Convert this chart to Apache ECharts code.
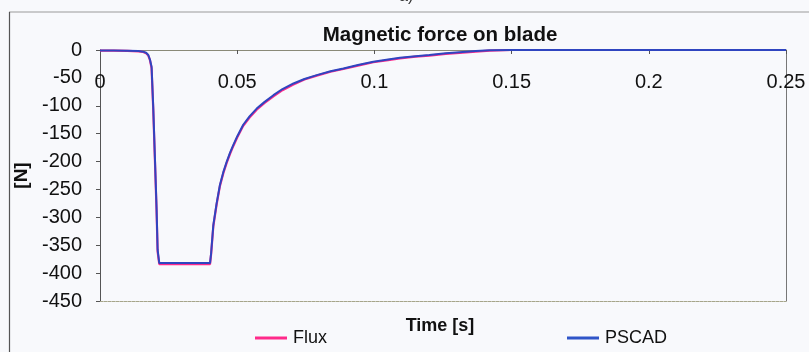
<!DOCTYPE html>
<html>
<head>
<meta charset="utf-8">
<script src="https://cdn.jsdelivr.net/npm/echarts@6/dist/echarts.min.js"></script>
<style>
  html, body { margin: 0; padding: 0; background: #f8f9fc; }
  #chart { width: 809px; height: 352px; }
</style>
</head>
<body>
<div id="chart"></div>
<script>
// Magnetic force on the blade over time, two simulation tools compared.
const timeS = [0, 0.005, 0.010, 0.0140, 0.0157, 0.0168, 0.0176, 0.0182, 0.0188, 0.0194, 0.0200, 0.0206, 0.0210, 0.0216,
  0.0401, 0.0405, 0.0413, 0.0425, 0.0437, 0.0450, 0.0462, 0.0474, 0.0486, 0.0500, 0.0522, 0.0545, 0.0571,
  0.0600, 0.0632, 0.0665, 0.0705, 0.0745, 0.0790, 0.0840, 0.0887, 0.0940, 0.0996, 0.1050, 0.1093,
  0.1150, 0.1200, 0.1260, 0.1310, 0.1370, 0.1420, 0.1500, 0.2000, 0.2500];

const psCad = [-1, -1, -1.5, -2, -3, -5, -9, -17, -30, -102, -191, -281, -358, -382,
  -382, -364, -314, -275, -242, -218, -200, -184, -170, -155, -134, -119, -105,
  -93, -81, -70, -60, -52, -45, -38, -33, -27, -21, -17, -14,
  -11, -9, -6, -4, -2, -0.5, 0, 0, 0];

const flux = [-1, -1, -1.5, -2.5, -3.5, -6, -10, -18, -33, -106, -196, -286, -362, -384,
  -384, -366, -316, -277, -244, -220, -202, -186, -172, -157, -136, -121, -107,
  -95, -83, -72, -62, -53, -46, -39, -34, -28, -22, -18, -15,
  -12, -10, -7, -5, -3, -1, 0, 0, 0];

const xTicks = { min: 0, max: 0.25, step: 0.05 };
const yTicks = { min: -450, max: 0, step: 50 };

const pair = (xs, ys) => xs.map((t, i) => [t, ys[i]]);

const chart = echarts.init(document.getElementById('chart'), null, { renderer: 'canvas' });
const font = 'Liberation Sans, Arial, sans-serif';

chart.setOption({
  backgroundColor: '#f8f9fc',
  animation: false,
  title: [
    { text: 'Magnetic force on blade', left: 435, top: 20, textAlign: 'center',
      textStyle: { fontFamily: font, fontSize: 20.5, fontWeight: 'bold', color: '#111' } },
    { text: 'Time [s]', left: 435, top: 312, textAlign: 'center',
      textStyle: { fontFamily: font, fontSize: 18, fontWeight: 'bold', color: '#111' } }
  ],
  graphic: [
    { type: 'text', left: 399, top: -11, style: { text: 'a)', font: '16px ' + font, fill: '#333' } },
    { type: 'line', shape: { x1: 9, y1: 12, x2: 809, y2: 12 }, style: { stroke: '#9a9a9a', lineWidth: 1 } },
    { type: 'line', shape: { x1: 9.5, y1: 12, x2: 9.5, y2: 352 }, style: { stroke: '#555', lineWidth: 1.2 } }
  ],
  legend: {
    bottom: 0, left: 250, itemGap: 240, itemWidth: 32, itemHeight: 3,
    icon: 'rect',
    textStyle: { fontFamily: font, fontSize: 18, color: '#111', padding: [0, 0, 0, 1] },
    data: ['Flux', 'PSCAD']
  },
  grid: { left: 100, right: 23, top: 50, bottom: 51, containLabel: false },
  xAxis: [
    {
      type: 'value', position: 'top', min: xTicks.min, max: xTicks.max, interval: xTicks.step,
      axisLine: { onZero: false, lineStyle: { color: '#8a8a78', width: 1 } },
      axisTick: { inside: true, length: 4, lineStyle: { color: '#555' } },
      axisLabel: { inside: true, margin: 22, fontFamily: font, fontSize: 20, color: '#111',
        formatter: v => String(+v.toFixed(2)) },
      splitLine: { show: false }
    },
    {
      type: 'value', position: 'bottom', min: xTicks.min, max: xTicks.max,
      axisLine: { onZero: false, lineStyle: { color: '#a6a58a', width: 1, type: [3, 1] } },
      axisTick: { show: false }, axisLabel: { show: false }, splitLine: { show: false }
    }
  ],
  yAxis: [
    {
      type: 'value', min: yTicks.min, max: yTicks.max, interval: yTicks.step,
      name: '[N]', nameLocation: 'middle', nameGap: 64, nameRotate: 90,
      nameTextStyle: { fontFamily: font, fontSize: 19, fontWeight: 'bold', color: '#111' },
      axisLine: { onZero: false, lineStyle: { color: '#555', width: 1 } },
      axisTick: { show: true, length: 4, lineStyle: { color: '#555' } },
      axisLabel: { margin: 18, fontFamily: font, fontSize: 20, color: '#111' },
      splitLine: { show: false }
    },
    {
      type: 'value', position: 'right', min: yTicks.min, max: yTicks.max,
      axisLine: { show: true, onZero: false, lineStyle: { color: '#777', width: 1 } },
      axisTick: { show: false }, axisLabel: { show: false }, splitLine: { show: false }
    }
  ],
  series: [
    {
      name: 'Flux', type: 'line', data: pair(timeS, flux), showSymbol: false,
      lineStyle: { color: '#ff2a8a', width: 2.2 }, itemStyle: { color: '#ff2a8a' }, z: 2
    },
    {
      name: 'PSCAD', type: 'line', data: pair(timeS, psCad), showSymbol: false,
      lineStyle: { color: '#2f45c0', width: 2 }, itemStyle: { color: '#2f55c8' }, z: 3
    }
  ]
});
</script>
</body>
</html>
